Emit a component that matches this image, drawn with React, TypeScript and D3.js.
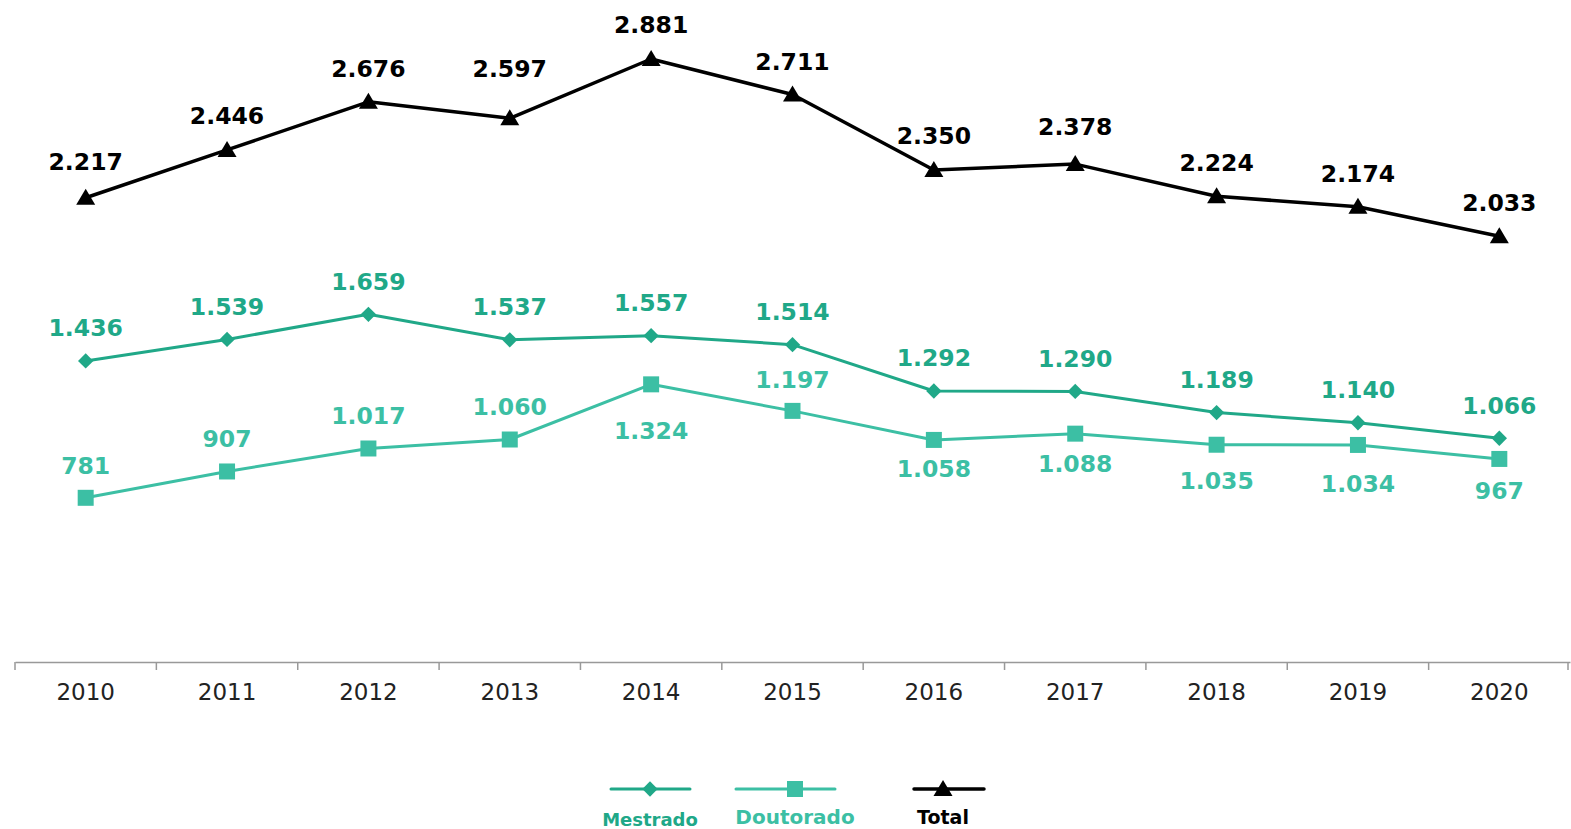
import { useEffect, useRef } from 'react'
import * as d3 from 'd3'

const years = ['2010', '2011', '2012', '2013', '2014', '2015', '2016', '2017', '2018', '2019', '2020']
const mestrado = [1436, 1539, 1659, 1537, 1557, 1514, 1292, 1290, 1189, 1140, 1066]
const doutorado = [781, 907, 1017, 1060, 1324, 1197, 1058, 1088, 1035, 1034, 967]
const total = [2217, 2446, 2676, 2597, 2881, 2711, 2350, 2378, 2224, 2174, 2033]

// label placement relative to the point (center offset, px)
const mestradoLabelDy = [-33, -33, -33, -33, -33, -33, -33, -33, -33, -33, -33]
const doutoradoLabelDy = [-32, -33, -33, -33, 46, -31, 29, 30, 36, 39, 32]
const totalLabelDy = [-36, -34, -33, -50, -34, -33, -34, -38, -34, -33, -34]

const fmt = (v: number) => d3.format(',')(v).replace(/,/g, '.')

export default function App() {
  const ref = useRef<SVGSVGElement>(null)

  useEffect(() => {
    const svg = d3.select(ref.current)
    svg.selectAll('*').remove()

    const font = "'DejaVu Sans', Verdana, sans-serif"

    const x = d3.scaleBand().domain(years).range([15, 1570])
    const y = d3.scaleLinear().domain([0, 2881]).range([661, 59])
    const cx = (d: string) => (x(d) ?? 0) + x.bandwidth() / 2

    // axis
    const axis = svg.append('g')
      .attr('transform', 'translate(0,662)')
      .call(d3.axisBottom(x).tickSize(0).tickPadding(0))
    axis.select('.domain').attr('stroke', '#999').attr('stroke-width', 1.5)
    axis.selectAll('text')
      .attr('font-family', font)
      .attr('font-size', 23)
      .attr('fill', '#222')
      .attr('y', 38)
      .attr('dy', '0')
    const bounds = [...years.map(d => x(d) ?? 0), 1568]
    axis.selectAll('.sep')
      .data(bounds)
      .enter().append('line')
      .attr('x1', d => d).attr('x2', d => d)
      .attr('y1', 0).attr('y2', 8)
      .attr('stroke', '#999')
      .attr('stroke-width', 1.5)

    const series = [
      { name: 'Mestrado', values: mestrado, dy: mestradoLabelDy, color: '#20a888', marker: 'diamond', lw: 3 },
      { name: 'Doutorado', values: doutorado, dy: doutoradoLabelDy, color: '#3cbfa4', marker: 'square', lw: 3 },
      { name: 'Total', values: total, dy: totalLabelDy, color: '#000000', marker: 'triangle', lw: 3.5 },
    ]

    const markerPath = (m: string) => {
      if (m === 'diamond') return d3.symbol(d3.symbolDiamond2, 150)()
      if (m === 'square') return d3.symbol(d3.symbolSquare, 256)()
      return 'M0,-9L9.5,7L-9.5,7Z'
    }

    const line = d3.line<number>()
      .x((_, i) => cx(years[i]))
      .y(d => y(d))

    series.forEach(s => {
      svg.append('path')
        .datum(s.values)
        .attr('d', line)
        .attr('fill', 'none')
        .attr('stroke', s.color)
        .attr('stroke-width', s.lw)
        .attr('stroke-linejoin', 'round')

      svg.selectAll(null)
        .data(s.values)
        .enter().append('path')
        .attr('d', markerPath(s.marker))
        .attr('transform', (d, i) => `translate(${cx(years[i])},${y(d)})`)
        .attr('fill', s.color)

      svg.selectAll(null)
        .data(s.values)
        .enter().append('text')
        .attr('x', (_, i) => cx(years[i]))
        .attr('y', (d, i) => y(d) + s.dy[i])
        .attr('dy', '0.36em')
        .attr('text-anchor', 'middle')
        .attr('font-family', font)
        .attr('font-weight', 'bold')
        .attr('font-size', 23.5)
        .attr('fill', s.color)
        .text(d => fmt(d))
    })

    // legend
    const legend = [
      { name: 'Mestrado', color: '#20a888', marker: 'diamond', x: 650, x0: 611, x1: 690, ty: 826, fs: 18, lw: 3 },
      { name: 'Doutorado', color: '#3cbfa4', marker: 'square', x: 795, x0: 736, x1: 835, ty: 824, fs: 20, lw: 3 },
      { name: 'Total', color: '#000000', marker: 'triangle', x: 943, x0: 914, x1: 984, ty: 824, fs: 19, lw: 3.5 },
    ]
    legend.forEach(l => {
      svg.append('line')
        .attr('x1', l.x0).attr('x2', l.x1)
        .attr('y1', 789).attr('y2', 789)
        .attr('stroke', l.color)
        .attr('stroke-width', l.lw)
        .attr('stroke-linecap', 'round')
      svg.append('path')
        .attr('d', markerPath(l.marker))
        .attr('transform', `translate(${l.x},789)`)
        .attr('fill', l.color)
      svg.append('text')
        .attr('x', l.x)
        .attr('y', l.ty)
        .attr('text-anchor', 'middle')
        .attr('font-family', font)
        .attr('font-weight', 'bold')
        .attr('font-size', l.fs)
        .attr('fill', l.color)
        .text(l.name)
    })
  }, [])

  return (
    <svg ref={ref} width={1571} height={829}
      style={{ position: 'absolute', left: 0, top: 0, background: '#fff' }} />
  )
}
